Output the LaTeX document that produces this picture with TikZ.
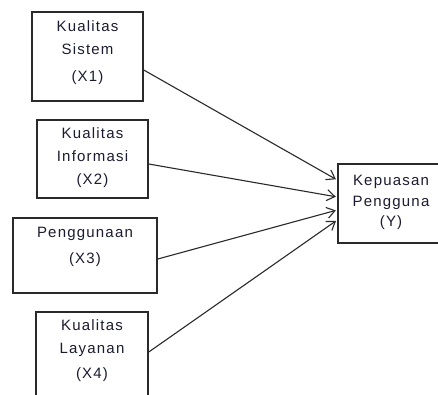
\documentclass[tikz,border=0pt]{standalone}
\usepackage{fontspec}
\setmainfont{Liberation Sans}[LetterSpace=8]
\usetikzlibrary{arrows.meta}
\definecolor{boxline}{HTML}{2a2a2a}
\definecolor{txt}{HTML}{1c1c30}
\tikzset{
  box/.style={draw=boxline, line width=1.5pt, rectangle, inner sep=0pt},
  lbl/.style={align=center, inner sep=0pt, text=txt, font=\fontsize{15}{23}\selectfont},
  conn/.style={draw=boxline, line width=1.1pt, -{Straight Barb[length=8pt,width=11pt,line width=1.1pt]}, shorten >=1.5pt}
}
\begin{document}
\begin{tikzpicture}[x=1pt,y=-1pt]
\useasboundingbox (0,0) rectangle (438,394);
\clip (0,0) rectangle (438,394);
\fill[white] (0,0) rectangle (438,394);
% boxes
\node[box, minimum width=111pt, minimum height=89pt] (x1) at (87.5,56.5) {};
\node[box, minimum width=111pt, minimum height=78pt] (x2) at (92.5,159) {};
\node[box, minimum width=144pt, minimum height=75pt] (x3) at (85,255.5) {};
\node[box, minimum width=112pt, minimum height=88pt] (x4) at (92,356) {};
\node[box, minimum width=107pt, minimum height=79pt] (y) at (391.5,203.5) {};
% labels
\node[lbl] (x1t) at (87.5,53) {Kualitas\\Sistem\\[4pt](X1)};
\node[lbl] (x2t) at (92.5,157.5) {Kualitas\\Informasi\\(X2)};
\node[lbl] (x3t) at (85,247) {Penggunaan\\[3pt](X3)};
\node[lbl] (x4t) at (92,351) {Kualitas\\Layanan\\[2pt](X4)};
\node[lbl, font=\fontsize{15}{20.5}\selectfont] (yt) at (391,202.5) {Kepuasan\\Pengguna\\(Y)};
% connectors
\draw[conn] ([yshift=-13.5pt]x1.east) -- ([yshift=23.5pt]y.west);
\draw[conn] ([yshift=-5pt]x2.east) -- ([yshift=6.5pt]y.west);
\draw[conn] ([yshift=-3.5pt]x3.east) -- ([yshift=-6.5pt]y.west);
\draw[conn] ([yshift=4pt]x4.east) -- ([yshift=-16.5pt]y.west);
\end{tikzpicture}
\end{document}
